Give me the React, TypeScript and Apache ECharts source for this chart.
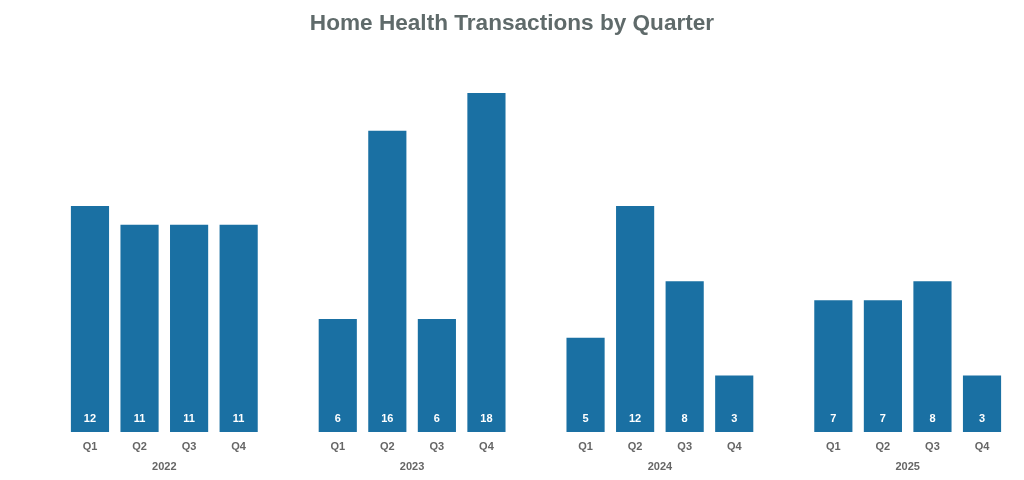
import React, { useEffect, useRef } from "react";
import * as echarts from "echarts";

const years = ["2022", "2023", "2024", "2025"];
const quarters = ["Q1", "Q2", "Q3", "Q4"];
const values2022 = [12, 11, 11, 11];
const values2023 = [6, 16, 6, 18];
const values2024 = [5, 12, 8, 3];
const values2025 = [7, 7, 8, 3];
const valuesByYear = [values2022, values2023, values2024, values2025];

export default function App() {
  const ref = useRef<HTMLDivElement>(null);
  useEffect(() => {
    if (!ref.current) return;
    const chart = echarts.init(ref.current, undefined, { renderer: "svg" });

    const cats: string[] = [];
    const data: (number | string)[] = [];
    const yearCenters: number[] = [];
    valuesByYear.forEach((vals, yi) => {
      if (yi > 0) {
        cats.push("");
        data.push("-");
      }
      const start = cats.length;
      quarters.forEach((q, qi) => {
        cats.push(q);
        data.push(vals[qi]);
      });
      yearCenters.push(start + (quarters.length - 1) / 2);
    });

    const labelColor = "#666666";
    chart.setOption({
      animation: false,
      title: {
        text: "Home Health Transactions by Quarter",
        left: "center",
        top: 6,
        textStyle: {
          fontFamily: "Liberation Sans, Arial, sans-serif",
          fontSize: 22.6,
          fontWeight: "bold",
          color: "#5f6a6a",
        },
      },
      grid: { left: 65.2, right: 17.2, top: 93, bottom: 48 },
      xAxis: [
        {
          type: "category",
          data: cats,
          axisLine: { show: false },
          axisTick: { show: false },
          axisLabel: {
            interval: 0,
            margin: 8,
            color: labelColor,
            fontWeight: "bold",
            fontSize: 11,
            fontFamily: "Liberation Sans, Arial, sans-serif",
          },
        },
        {
          type: "value",
          position: "bottom",
          min: -0.5,
          max: cats.length - 0.5,
          axisLine: { show: false },
          axisTick: { show: false },
          splitLine: { show: false },
          axisLabel: {
            customValues: yearCenters,
            margin: 28,
            color: labelColor,
            fontWeight: "bold",
            fontSize: 11,
            fontFamily: "Liberation Sans, Arial, sans-serif",
            formatter: (v: number) => {
              const idx = yearCenters.findIndex((c) => Math.abs(c - v) < 1e-6);
              return idx >= 0 ? years[idx] : "";
            },
          },
        },
      ],
      yAxis: {
        type: "value",
        min: 0,
        max: 18,
        show: false,
        splitLine: { show: false },
      },
      series: [
        {
          type: "bar",
          xAxisIndex: 0,
          data,
          barWidth: "77%",
          itemStyle: { color: "#1a70a3" },
          label: {
            show: true,
            position: "insideBottom",
            distance: 9,
            color: "#ffffff",
            fontWeight: "bold",
            fontSize: 11,
            fontFamily: "Liberation Sans, Arial, sans-serif",
          },
        },
      ],
    });
    return () => chart.dispose();
  }, []);
  return (
    <div
      ref={ref}
      style={{ position: "fixed", left: 0, top: 0, width: 1024, height: 480 }}
    />
  );
}
